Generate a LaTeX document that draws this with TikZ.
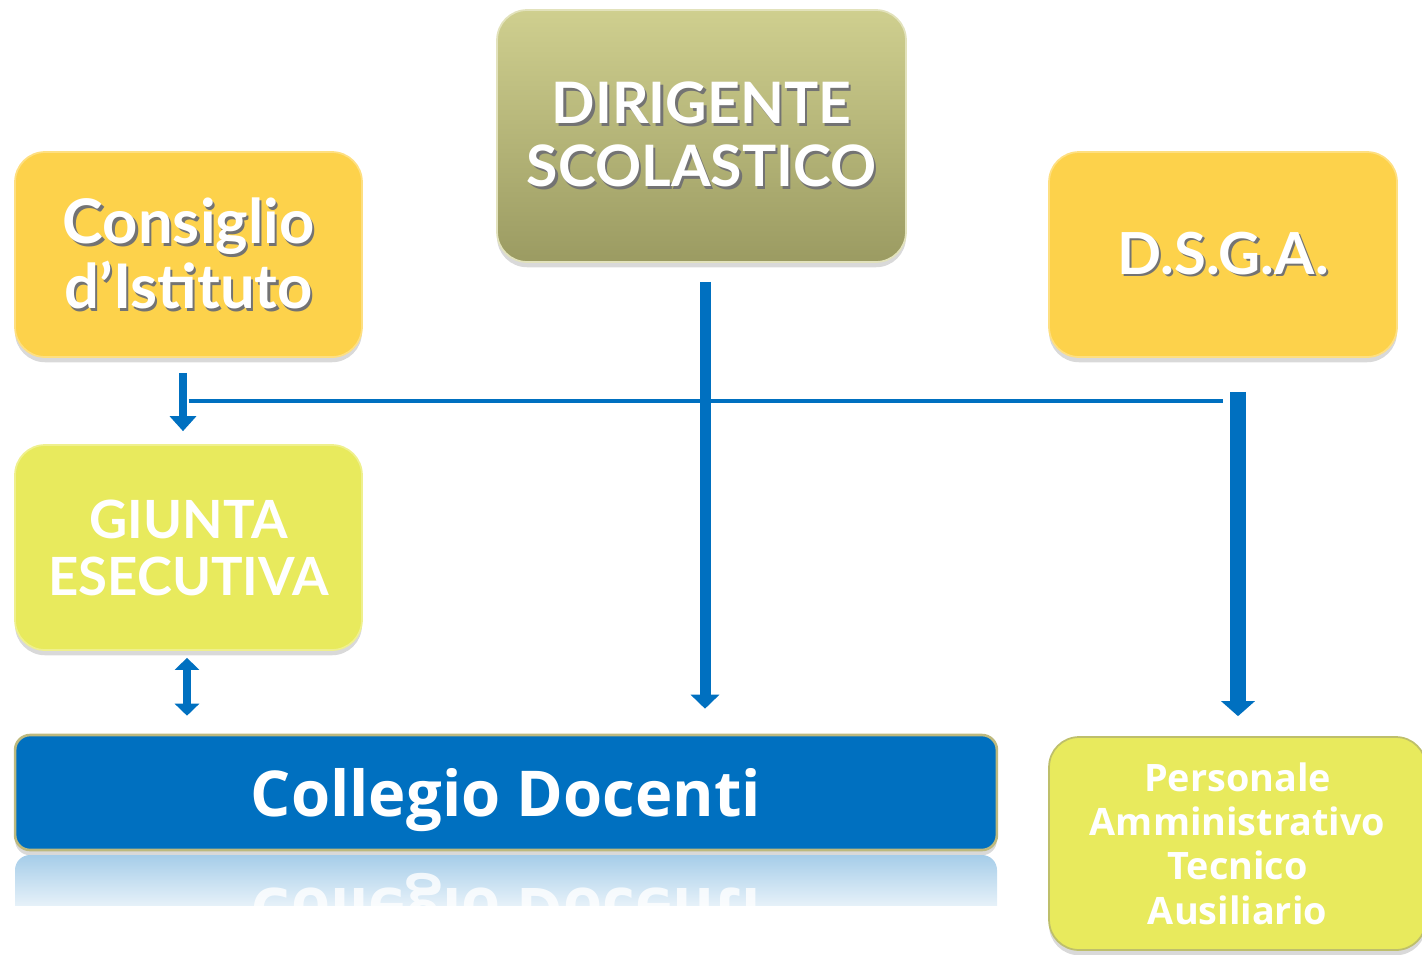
\documentclass[tikz,border=0pt]{standalone}
\usepackage{fontspec}
\setmainfont{Lato}
\newfontfamily\verdfont{Open Sans}
\usetikzlibrary{arrows.meta,shadows,calc}

\definecolor{cdyellow}{HTML}{FDD24B}
\definecolor{cdlime}{HTML}{E8EA5D}
\definecolor{cdblue}{HTML}{0070C0}
\definecolor{cdolivetop}{HTML}{CFCF8F}
\definecolor{cdolivebot}{HTML}{9B9B62}
\definecolor{cdrim}{HTML}{BDB97E}

% white text with a soft dark shadow
\newcommand\txtsh[1]{\makebox[0pt][l]{\raisebox{-1.6pt}{\hspace{1.3pt}\textcolor{black!55}{#1}}}#1}

\begin{document}
\begin{tikzpicture}[
  x=0.02cm, y=-0.02cm,
  box/.style = {shape=rectangle, rounded corners=0.6cm, align=center, text=white,
                inner sep=0pt, line width=1pt,
                drop shadow={shadow xshift=0pt, shadow yshift=-3pt, opacity=0.3}},
  bluearrow/.style = {draw=cdblue, line width=0.16cm},
  link/.style = {draw=cdblue, line width=0.08cm}
]
  \useasboundingbox (0,0) rectangle (1422,954);

  % boxes
  \node[box, fill=cdyellow, draw=cdyellow!70!white, minimum width=6.94cm, minimum height=4.1cm,
        font=\bfseries\fontsize{35}{37}\selectfont] (consiglio) at (188.5,254.5)
        {\txtsh{Consiglio}\\\txtsh{d’Istituto}};
  \node[box, top color=cdolivetop, bottom color=cdolivebot, draw=cdolivetop!60!white,
        minimum width=8.18cm, minimum height=5.04cm,
        font=\bfseries\fontsize{32.5}{36}\selectfont] (dirigente) at (701.5,136)
        {\txtsh{DIRIGENTE}\\\txtsh{SCOLASTICO}};
  \node[box, fill=cdyellow, draw=cdyellow!70!white, minimum width=6.96cm, minimum height=4.1cm,
        font=\bfseries\fontsize{33}{36}\selectfont] (dsga) at (1223,254.5)
        {\txtsh{D.S.G.A.}};
  \node[box, fill=cdlime, draw=cdlime!70!white, minimum width=6.94cm, minimum height=4.1cm,
        font=\bfseries\fontsize{30}{32.5}\selectfont] (giunta) at (188.5,547.5)
        {GIUNTA\\ESECUTIVA};
  \node[box, fill=cdblue, draw=cdrim, line width=1.5pt, rounded corners=0.3cm,
        minimum width=19.64cm, minimum height=2.3cm, text depth=0pt,
        font=\verdfont\bfseries\fontsize{36}{40}\selectfont] (collegio) at (506,792.5)
        {Collegio Docenti};
  \node[box, fill=cdlime, draw=cdlime!60!gray, minimum width=7.54cm, minimum height=4.26cm,
        font=\verdfont\bfseries\fontsize{21.5}{25.2}\selectfont] (personale) at (1237.5,843.5)
        {Personale\\Amministrativo\\Tecnico\\Ausiliario};

  % reflection under the Collegio
  \begin{scope}
    \clip (15,855) rectangle (997,905);
    \shade[top color=cdblue!35, bottom color=white, rounded corners=0.3cm] (15,855) rectangle (997,925);
    \node[yscale=-1, text=white, opacity=0.8, inner sep=0pt, minimum height=2.3cm, text depth=0pt,
          font=\verdfont\bfseries\fontsize{36}{40}\selectfont] (riflesso) at (506,912.5) {Collegio Docenti};
  \end{scope}

  % connectors
  \coordinate (snodo) at ($(consiglio.south)!0.5!(giunta.north)$);
  \draw[link] (snodo) -- (snodo -| dsga.south);
  \draw[bluearrow, -{Triangle[width=0.52cm,length=0.3cm]}, shorten <=0.3cm, shorten >=0.26cm]
    ([xshift=-0.11cm]consiglio.south) -- ([xshift=-0.11cm]giunta.north);
  \coordinate (dirpiede) at ([xshift=0.07cm]dirigente.south);
  \draw[bluearrow, line width=0.22cm, -{Triangle[width=0.56cm,length=0.28cm]}, shorten <=0.38cm, shorten >=0.5cm]
    (dirpiede) -- (dirpiede |- collegio.north);
  \coordinate (dsgapiede) at ([xshift=0.3cm]dsga.south);
  \draw[bluearrow, line width=0.32cm, -{Triangle[width=0.66cm,length=0.3cm]}, shorten <=0.68cm, shorten >=0.4cm]
    (dsgapiede) -- (dsgapiede |- personale.north);
  \draw[bluearrow, {Triangle[width=0.48cm,length=0.24cm]}-{Triangle[width=0.48cm,length=0.24cm]},
        shorten <=0.14cm, shorten >=0.36cm]
    ([xshift=-0.03cm]giunta.south) -- ([xshift=-0.03cm]giunta.south |- collegio.north);
\end{tikzpicture}
\end{document}
